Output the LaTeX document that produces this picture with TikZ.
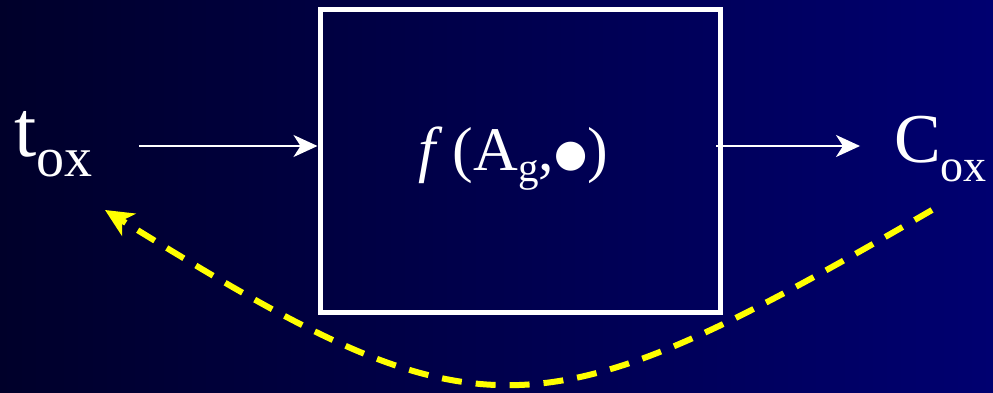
\documentclass[tikz,border=0pt]{standalone}
\usepackage{fontspec}
\setmainfont{Liberation Serif}
\newfontfamily\djv{DejaVu Sans}
\usetikzlibrary{arrows.meta}
\definecolor{bgleft}{RGB}{0,0,42}
\definecolor{bgright}{RGB}{0,0,112}
\definecolor{dashyellow}{RGB}{255,255,0}
\newcommand{\subtxt}[3]{\raisebox{-#2pt}{\fontsize{#1}{#1}\selectfont #3}}
\begin{document}
\begin{tikzpicture}[x=1pt,y=-1pt,
  lbl/.style={text=white,inner sep=0pt,anchor=base west},
  flow/.style={draw=white,line width=2pt,-{Stealth[length=24pt,width=22pt,inset=7pt]}},
  feedback/.style={draw=dashyellow,line width=6pt,dash pattern=on 20pt off 14pt,
     -{Stealth[length=28pt,width=26pt,inset=8pt]}}]
\shade[left color=bgleft,right color=bgright] (0,0) rectangle (993,393);
\useasboundingbox (0,0) rectangle (993,393);
\node[draw=white,line width=5pt,minimum width=400pt,minimum height=302pt,inner sep=0pt] (box) at (520,161) {};
\node[text=white,font=\fontsize{62}{68}\selectfont,inner sep=0pt,anchor=base] (fn) at (513,171)
  {\textit{f}\,(A\subtxt{41}{10}{g},{\djv\fontsize{38}{42}\selectfont\raisebox{5pt}{●}})};
\node[lbl,font=\fontsize{80}{86}\selectfont] (tox) at (14,157) {t\subtxt{56}{20}{ox}};
\node[lbl,font=\fontsize{70}{76}\selectfont] (cox) at (894,163) {C\subtxt{46}{18}{ox}};
\coordinate (a1) at (139,146);
\coordinate (a2) at (716,146);
\coordinate (a2e) at (860,146);
\draw[flow] (a1) -- (box.west |- a1);
\draw[flow] (a2) -- (a2e);
\coordinate (fs) at (932,210);
\coordinate (fe) at (105,210);
\draw[feedback] (fs) .. controls (532,442) and (480,442) .. (fe);
\end{tikzpicture}
\end{document}
